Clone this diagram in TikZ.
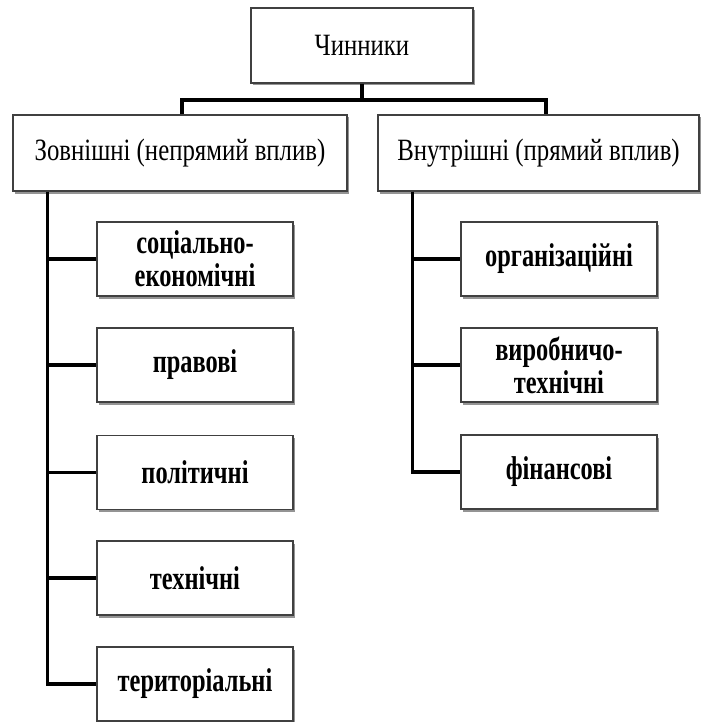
\documentclass[tikz,border=0pt]{standalone}
\usepackage{fontspec}
\usetikzlibrary{shadows}
\newfontfamily\headfont[FakeStretch=0.8]{Liberation Serif}
\newfontfamily\itemfont[FakeStretch=0.74]{Liberation Serif}

\tikzset{
  box/.style={draw=black!75, line width=1.2pt, fill=white, inner sep=0pt, align=center,
    drop shadow={shadow xshift=2pt, shadow yshift=-2.5pt, fill=black!60, opacity=0.7}},
  headbox/.style={box, minimum height=76pt, font=\headfont\fontsize{31}{34}\selectfont},
  itembox/.style={box, minimum width=196pt, minimum height=74pt,
    font=\itemfont\bfseries\fontsize{33}{33}\selectfont},
  link/.style={line width=3.6pt, line join=miter}
}

\begin{document}
\begin{tikzpicture}[x=1pt,y=-1pt]
  \useasboundingbox (0,0) rectangle (701,722);

  \node[headbox, minimum width=222pt, minimum height=75pt] (chynnyky) at (362,45.5) {Чинники};
  \node[headbox, minimum width=334pt] (zovn) at (180,153) {Зовнішні (непрямий вплив)};
  \node[headbox, minimum width=321pt] (vnutr) at (538.5,153) {Внутрішні (прямий вплив)};

  \node[itembox] (soc)  at (195,259)   {соціально-\\економічні};
  \node[itembox] (prav) at (195,365)   {правові};
  \node[itembox] (pol)  at (195,472.5) {політичні};
  \node[itembox] (tech) at (195,578)   {технічні};
  \node[itembox] (terr) at (195,684)   {територіальні};

  \node[itembox] (org)  at (559,259) {організаційні};
  \node[itembox] (vyr)  at (559,365) {виробничо-\\технічні};
  \node[itembox] (fin)  at (559,472) {фінансові};

  \coordinate (fork) at (chynnyky.south |- 0,100);
  \coordinate (lspine) at ([xshift=35pt]zovn.south west);
  \coordinate (rspine) at ([xshift=35pt]vnutr.south west);

  \draw[link] (chynnyky.south) -- (fork);
  \draw[link] ([xshift=2pt]zovn.north) |- (fork) -| ([xshift=7.5pt]vnutr.north);

  \draw[link] (lspine) |- (terr.west);
  \draw[link] (lspine |- soc.west) -- (soc.west);
  \draw[link] (lspine |- prav.west) -- (prav.west);
  \draw[link] (lspine |- pol.west) -- (pol.west);
  \draw[link] (lspine |- tech.west) -- (tech.west);

  \draw[link] (rspine) |- (fin.west);
  \draw[link] (rspine |- org.west) -- (org.west);
  \draw[link] (rspine |- vyr.west) -- (vyr.west);
\end{tikzpicture}
\end{document}
